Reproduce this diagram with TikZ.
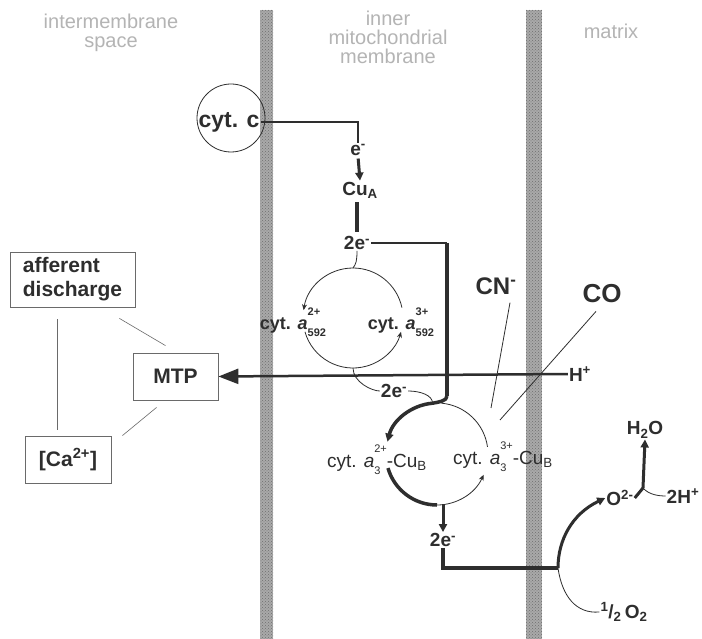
\documentclass[tikz,border=0pt]{standalone}
\usepackage{fontspec}
\setmainfont{Liberation Sans}
\usetikzlibrary{positioning, arrows.meta, calc, patterns}
\definecolor{membraneFill}{HTML}{A9A9A9}
\definecolor{membraneDots}{HTML}{6E6E6E}
\definecolor{headerText}{HTML}{B4B4B4}
\definecolor{lineDark}{HTML}{2E2E2E}
\definecolor{boxBorder}{HTML}{6A6A6A}
\newsavebox{\supbox}
\newsavebox{\subbox}
\newcommand{\ionsub}[2]{%
  \sbox{\supbox}{\raisebox{0.78em}{\fontsize{11}{11}\selectfont #2}}%
  \sbox{\subbox}{\raisebox{-0.38em}{\fontsize{11}{11}\selectfont #1}}%
  \ifdim\wd\supbox>\wd\subbox\rlap{\usebox{\subbox}}\usebox{\supbox}%
  \else\rlap{\usebox{\supbox}}\usebox{\subbox}\fi}
\tikzset{
  membrane/.style={
    fill=membraneFill, draw=none,
  },
  membranetex/.style={
    pattern=crosshatch dots, pattern color=membraneDots,
  },
  header/.style={
    font=\fontsize{20}{19}\selectfont, text=headerText, align=center,
  },
  species/.style={
    font=\bfseries\fontsize{19}{20}\selectfont, text=lineDark, inner sep=1pt,
  },
  complex/.style={
    font=\fontsize{19}{20}\selectfont, text=lineDark, inner sep=1pt,
  },
  infobox/.style={
    draw=boxBorder, line width=0.8pt, align=left,
    font=\bfseries\fontsize{21}{24}\selectfont, text=lineDark,
  },
  etrack/.style={
    line width=3pt, color=lineDark,
  },
  etrackarrow/.style={
    etrack, -{Triangle[length=8pt, width=8pt]},
  },
  cycle/.style={
    line width=0.8pt, color=lineDark,
  },
  cyclearrow/.style={
    cycle, -{Stealth[length=6pt, width=5pt]},
  },
  link/.style={
    line width=0.6pt, color=boxBorder,
  },
}

\begin{document}
\begin{tikzpicture}[x=1pt, y=-1pt]

  \useasboundingbox (0,0) rectangle (702,639);
  \fill[white] (0,0) rectangle (702,639);

  % === Membranes ===
  \fill[membrane] (260,10) rectangle (273,639);
  \fill[membranetex] (260,10) rectangle (273,639);
  \fill[membrane] (526,10) rectangle (542,639);
  \fill[membranetex] (526,10) rectangle (542,639);

  % === Compartment headers ===
  \node[header] (ims) at (111,33) {intermembrane\\space};
  \node[header] (imm) at (388,37) {inner\\mitochondrial\\membrane};
  \node[header] (mtx) at (611,31) {matrix};

  % === Cytochrome c and Cu_A ===
  \node[circle, draw=lineDark, line width=0.8pt, minimum size=68pt, inner sep=0pt] (cytcring) at (231,118) {};
  \node[species, font=\bfseries\fontsize{23}{24}\selectfont] (cytc) at (229,122) {cyt. c};
  \node[species] (eA) at (358,150) {e\textsuperscript{-}};
  \node[species] (cuA) at (360,190) {Cu\textsubscript{A}};
  \node[species] (twoeA) at (357,243) {2e\textsuperscript{-}};

  \draw[etrack, line width=2.5pt] (cytc.east) -| (eA.north);
  \draw[etrackarrow, shorten <=2pt] (eA.south) -- (cuA.north);
  \draw[etrack, line width=4pt, shorten <=3pt, shorten >=3pt] (cuA.south -| twoeA) -- (twoeA.north);

  % === Cytochrome a592 cycle ===
  \coordinate (upc) at (353,318);
  \node[species, font=\bfseries\fontsize{18}{20}\selectfont] (a592red) at (293,322) {cyt. \textit{a}\ionsub{592}{2+}};
  \node[species, font=\bfseries\fontsize{18}{20}\selectfont] (a592ox) at (401,322) {cyt. \textit{a}\ionsub{592}{3+}};

  \draw[cycle] (twoeA.south) .. controls +(0,10) and +(3,-4) .. ($(upc)+(-90:50)$);
  \draw[cyclearrow] ($(upc)+(-90:50)$) arc[start angle=-90, end angle=-171, radius=50];
  \draw[cyclearrow] ($(upc)+(-196:50)$) arc[start angle=-196, end angle=-344, radius=50];
  \draw[cycle] ($(upc)+(-12:50)$) arc[start angle=-12, end angle=-90, radius=50];

  \node[species] (twoeB) at (394,391) {2e\textsuperscript{-}};
  \draw[cycle] ($(upc)+(90:50)$) .. controls +(0,14) and +(-8,0) .. (twoeB.west);

  % === Cytochrome a3-Cu_B cycle ===
  \coordinate (lowc) at (437,454);
  \coordinate (drop) at (447,396);
  \node[complex] (a3red) at (377,460) {cyt. \textit{a}\ionsub{3}{2+}-Cu\textsubscript{B}};
  \node[complex] (a3ox) at (503,457) {cyt. \textit{a}\ionsub{3}{3+}-Cu\textsubscript{B}};

  \draw[etrack, line width=2pt] (twoeA.east) -- (twoeA.east -| drop);
  \draw[etrack, line width=4pt] (twoeA.east -| drop) -- (drop);
  \draw[etrackarrow, line width=3.5pt] (drop) .. controls +(0,5) and +(6,-1) .. ($(lowc)+(-95:51)$)
    arc[start angle=-95, end angle=-166, radius=51];
  \draw[cycle] (twoeB.east) .. controls +(12,0) and +(0,-8) .. ($(lowc)+(-95:51)$);
  \draw[etrack, line width=3.5pt] ($(lowc)+(-196:51)$) arc[start angle=-196, end angle=-270, radius=51];
  \draw[cyclearrow] ($(lowc)+(-270:51)$) arc[start angle=-270, end angle=-336, radius=51];
  \draw[cycle] ($(lowc)+(-8:51)$) arc[start angle=-8, end angle=-85, radius=51];

  % === Oxygen reduction ===
  \node[species] (twoeC) at (443,540) {2e\textsuperscript{-}};
  \node[species] (ox) at (620,498) {O\textsuperscript{2-}};
  \node[species] (water) at (645,430) {H\textsubscript{2}O};
  \node[species] (protons) at (683,496) {2H\textsuperscript{+}};
  \node[species] (halfO2) at (624,612) {\textsuperscript{1}/\textsubscript{2}\,O\textsubscript{2}};
  \coordinate (cross) at (558,568);
  \coordinate (junc) at (643,488);

  \draw[etrackarrow] ($(lowc)+(6,50)$) -- (twoeC.north);
  \draw[etrack, line width=3.5pt] (twoeC.south) |- (cross);
  \draw[etrackarrow] (cross) .. controls (558,540) and (572,514) .. (ox.west);
  \draw[etrack] (ox.east) -- (junc);
  \draw[etrackarrow] (junc) -- (water.south);
  \draw[cycle] (junc) .. controls +(6,7) and +(-6,0) .. (protons.west);
  \draw[cycle] (cross) .. controls (562,596) and (576,614) .. (halfO2.west);

  % === Inhibitors ===
  \node[species, font=\bfseries\fontsize{24}{24}\selectfont] (cn) at (496,286) {CN\textsuperscript{-}};
  \node[species, font=\bfseries\fontsize{26}{26}\selectfont] (co) at (602,294) {CO};
  \coordinate (cnhit) at (491,408);
  \coordinate (cohit) at (500,420);
  \draw[cycle] ($(cn.south)+(14,7)$) -- (cnhit);
  \draw[cycle] ($(co.south)+(-6,7)$) -- (cohit);

  % === Proton signal to MTP ===
  \node[infobox, minimum width=85pt, minimum height=47pt] (mtp) at (175.5,376.5) {MTP};
  \node[infobox, minimum width=125pt, minimum height=55pt] (afferent) at (72.5,279.5) {afferent\\discharge};
  \node[infobox, minimum width=86pt, minimum height=47pt] (ca) at (68,459.5) {[Ca\textsuperscript{2+}]};
  \node[species] (hplus) at (580,374) {H\textsuperscript{+}};

  \draw[etrack, line width=2.5pt, -{Triangle[length=20pt, width=15pt]}] (hplus.west) -- (mtp.east);

  \draw[link] ($(afferent.south east)+(-16,11)$) -- ($(mtp.north)+(-10,-7)$);
  \draw[link] ($(mtp.south west)+(24,7)$) -- ($(ca.north east)+(11,0)$);
  \draw[link] ($(afferent.south west)+(48,12)$) -- ($(ca.north west)+(33,-6)$);

\end{tikzpicture}
\end{document}
